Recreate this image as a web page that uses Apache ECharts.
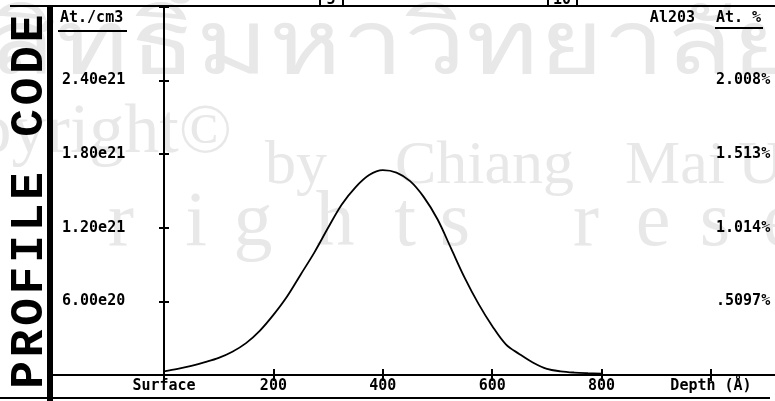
<!DOCTYPE html>
<html>
  <head>
    <meta charset="utf-8" />
    <script src="https://cdn.jsdelivr.net/npm/echarts@6/dist/echarts.min.js"></script>
    <style>html, body { margin: 0; padding: 0; background: #fff; }</style>
  </head>
  <body>
    <div id="main" style="width: 775px; height: 401px"></div>

    <script type="text/javascript">
      // Al2O3 depth profile (At./cm3 in units of 1e21)
      var depthA = [0, 25, 50, 75, 100, 125, 150, 175, 200, 225, 250, 275, 300, 325, 350, 375, 400,
                    425, 450, 475, 500, 525, 550, 575, 600, 625, 650, 675, 700, 725, 750, 775, 800];
      var concE21 = [0.03, 0.05, 0.075, 0.105, 0.14, 0.19, 0.26, 0.36, 0.49, 0.64, 0.82, 1.0, 1.2, 1.39, 1.53, 1.63, 1.67,
                     1.65, 1.58, 1.45, 1.27, 1.03, 0.79, 0.58, 0.40, 0.25, 0.17, 0.10, 0.05, 0.03, 0.02, 0.015, 0.012];

      var xTickValues = [0, 200, 400, 600, 800, 1000];
      var xTickLabels = ['Surface', '200', '400', '600', '800', 'Depth (Å)'];
      var leftTickLabels = ['', '6.00e20', '1.20e21', '1.80e21', '2.40e21', ''];
      var rightTickLabels = ['', '.5097%', '1.014%', '1.513%', '2.008%', ''];

      var FONT = 'DejaVu Sans Mono';
      var WM = '#e8e8e8';

      var pts = depthA.map(function (d, i) { return [d, concE21[i]]; });

      var myChart = echarts.init(document.getElementById('main'));

      function line(x1, y1, x2, y2, w) {
        return { type: 'line', z: 50, shape: { x1: x1, y1: y1, x2: x2, y2: y2 },
                 style: { stroke: '#000', lineWidth: w || 2 } };
      }
      function txt(x, y, s, opt) {
        opt = opt || {};
        return { type: 'text', x: x, y: y, z: opt.z || 50, rotation: opt.rot || 0,
                 scaleX: opt.sx || 1, scaleY: opt.sy || 1,
                 style: { text: s, font: opt.font || ('bold 15px ' + FONT), fill: opt.fill || '#000',
                          textAlign: opt.align || 'left', textVerticalAlign: opt.va || 'top' } };
      }

      var els = [];
      // watermark (behind everything)
      els.push(txt(-153, 5, 'ลิขสิทธิ์มหาวิทยาลัยเชียงใหม่', { font: '110px sans-serif', fill: WM, sy: 0.8, z: -10 }));
      els.push(txt(232, 99, 'Copyright©', { font: '70px "Liberation Serif"', fill: WM, align: 'right', z: -10 }));
      var wmWords = ['by', 'Chiang', 'Mai', 'University'];
      var wmX = [265, 395, 625, 738];
      for (var k = 0; k < wmWords.length; k++) {
        els.push(txt(wmX[k], 136, wmWords[k], { font: '62px "Liberation Serif"', fill: WM, z: -10 }));
      }
      var wm3 = 'rightsrese';
      var wm3X = [121, 196, 253, 335, 405, 455, 586, 653, 715, 780];
      for (var i = 0; i < wm3.length; i++) {
        els.push(txt(wm3X[i], 186, wm3[i], { font: '78px "Liberation Serif"', fill: WM, align: 'center', z: -10 }));
      }

      // frame
      els.push(line(10, 6, 775, 6, 2));
      els.push(line(50, 6, 50, 401, 6));
      els.push(line(53, 375, 775, 375, 2));
      els.push(line(0, 398, 770, 398, 2));

      // panel headers
      els.push(txt(60, 11, 'At./cm3'));
      els.push(line(58, 31, 127, 31, 2));
      els.push(txt(695, 11, 'Al203', { align: 'right' }));
      els.push(txt(716, 11, 'At. %'));
      els.push(line(715, 28, 763, 28, 2));

      // boxes cut off at the top edge
      els.push(line(320, 0, 320, 6, 2));
      els.push(line(343, 0, 343, 6, 2));
      els.push(txt(331, -7, '5', { align: 'center' }));
      els.push(line(548, 0, 548, 6, 2));
      els.push(line(577, 0, 577, 6, 2));
      els.push(txt(562, -7, '10', { align: 'center' }));

      // vertical PROFILE CODE
      var code = 'PROFILE CODE';
      for (var j = 0; j < code.length; j++) {
        els.push(txt(30, 375 - j * 31.5, code[j], { font: 'bold 46px "Liberation Mono"', align: 'center', va: 'middle', rot: Math.PI / 2 }));
      }

      var option = {
        animation: false,
        backgroundColor: '#fff',
        grid: { left: 164, right: 64, top: 7, bottom: 26 },
        xAxis: [{
          type: 'value', min: 0, max: 1000, interval: 200,
          axisLine: { lineStyle: { color: '#000', width: 2 } },
          axisTick: { inside: true, length: 6, lineStyle: { color: '#000', width: 2 } },
          splitLine: { show: false },
          axisLabel: {
            showMinLabel: true, showMaxLabel: true, margin: 4,
            color: '#000', fontFamily: FONT, fontWeight: 'bold', fontSize: 15,
            formatter: function (v) { return xTickLabels[xTickValues.indexOf(v)]; }
          }
        }, {
          type: 'value', position: 'top', min: 0, max: 1000, interval: 200,
          axisLine: { show: false },
          axisTick: { inside: true, length: 6, lineStyle: { color: '#000', width: 2 } },
          axisLabel: { show: false }, splitLine: { show: false }
        }],
        yAxis: [{
          type: 'value', min: 0, max: 3, interval: 0.6,
          axisLine: { show: true, lineStyle: { color: '#000', width: 2 } },
          axisTick: { inside: true, length: 5, lineStyle: { color: '#000', width: 2 } },
          splitLine: { show: false },
          axisLabel: {
            margin: 102, align: 'left', color: '#000', fontFamily: FONT, fontWeight: 'bold', fontSize: 15,
            formatter: function (v) { return leftTickLabels[Math.round(v / 0.6)]; }
          }
        }, {
          type: 'value', position: 'right', min: 0, max: 3, interval: 0.6,
          axisLine: { show: true, lineStyle: { color: '#000', width: 2 } },
          axisTick: { inside: true, length: 5, lineStyle: { color: '#000', width: 2 } },
          splitLine: { show: false },
          axisLabel: {
            margin: 5, align: 'left', color: '#000', fontFamily: FONT, fontWeight: 'bold', fontSize: 15,
            formatter: function (v) { return rightTickLabels[Math.round(v / 0.6)]; }
          }
        }],
        graphic: { elements: els },
        series: [{
          type: 'line', data: pts, smooth: 0.35, symbol: 'none', z: 60,
          lineStyle: { color: '#000', width: 1.8 }
        }]
      };

      myChart.setOption(option);
    </script>
  </body>
</html>
